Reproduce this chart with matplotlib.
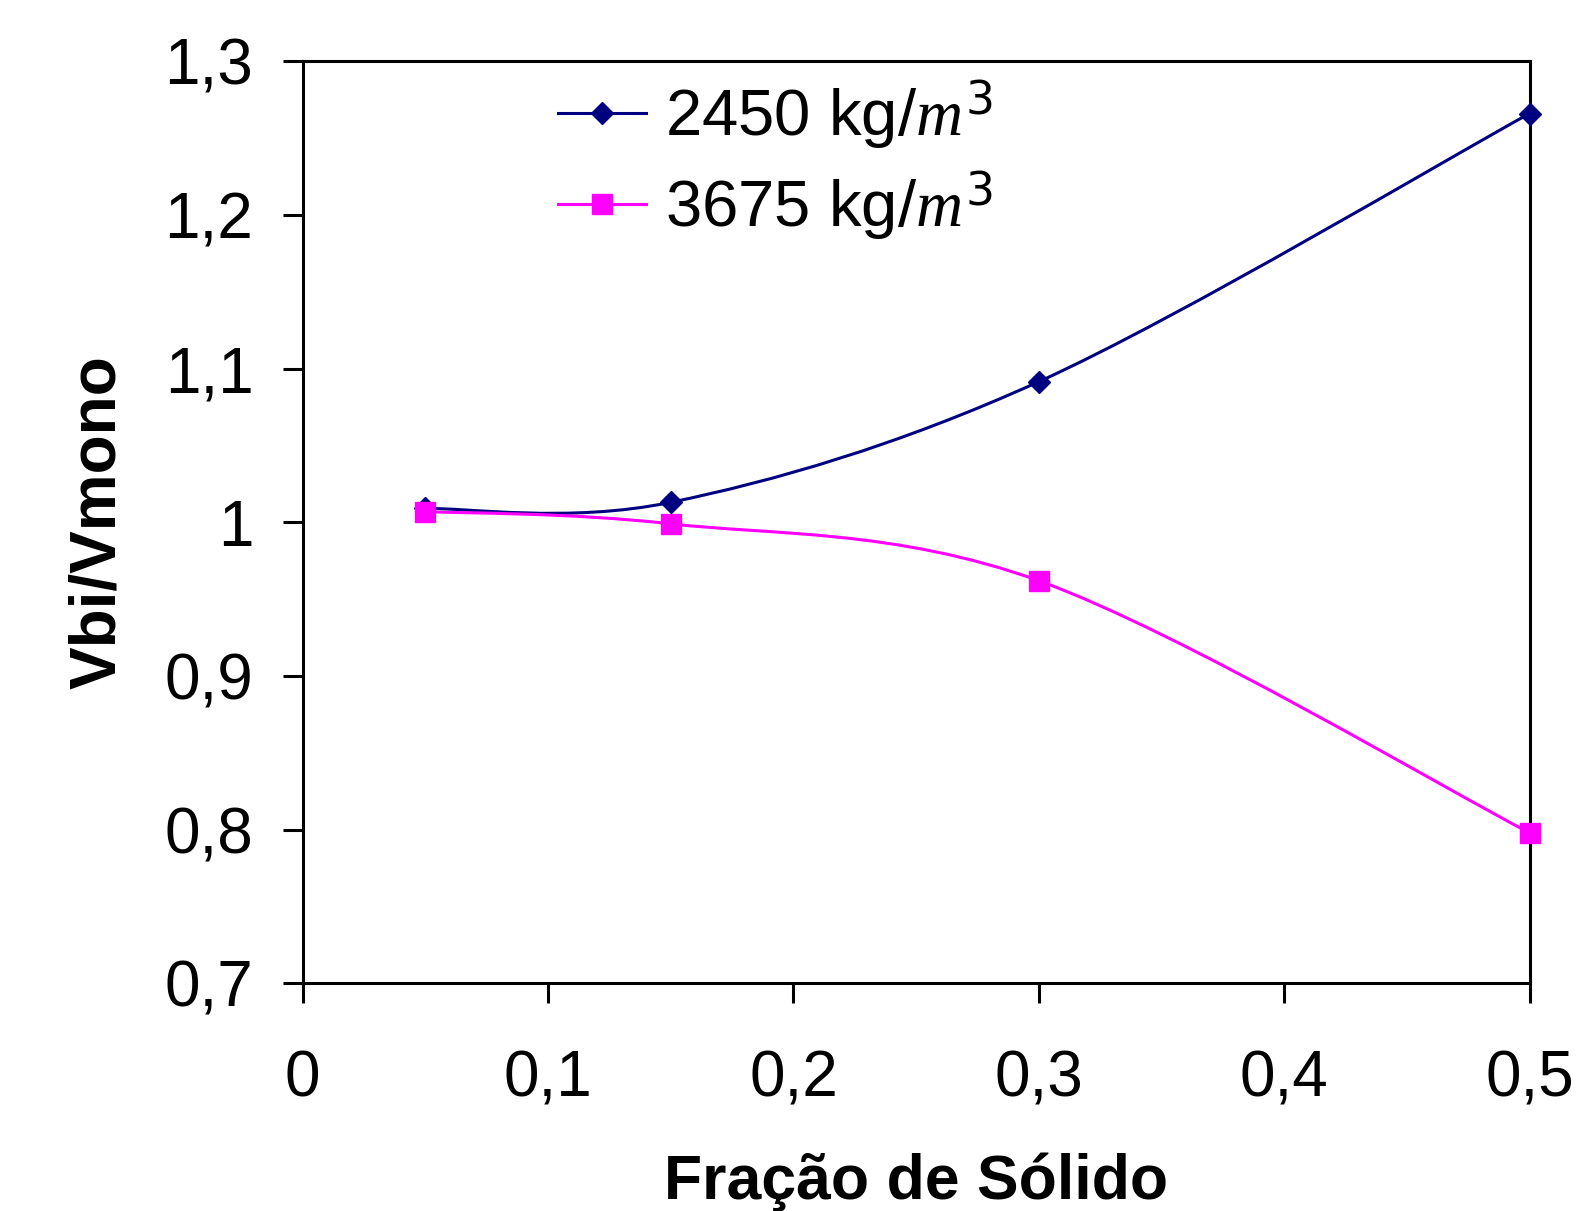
#Vbi/Vmono vs solid fraction chart
#Output is saved as out.png

import numpy as np
import matplotlib.pyplot as plt
from matplotlib.path import Path
from matplotlib.patches import PathPatch
from matplotlib.lines import Line2D

plt.rcParams["font.family"] = ["Liberation Sans", "DejaVu Sans"]
plt.rcParams["mathtext.fontset"] = "custom"
plt.rcParams["mathtext.it"] = "Liberation Serif:italic"

fracao = [0.05, 0.15, 0.3, 0.5]
v_2450 = [1.009, 1.013, 1.0915, 1.266]
v_3675 = [1.007, 0.999, 0.962, 0.798]
labels = [r"2450 kg/$m^{3}$", r"3675 kg/$m^{3}$"]
colors = ["#000080", "#FF00FF"]
markers = ["D", "s"]

x_ticks = [0, 0.1, 0.2, 0.3, 0.4, 0.5]
x_tick_labels = ["0", "0,1", "0,2", "0,3", "0,4", "0,5"]
y_ticks = [0.7, 0.8, 0.9, 1.0, 1.1, 1.2, 1.3]
y_tick_labels = ["0,7", "0,8", "0,9", "1", "1,1", "1,2", "1,3"]


#Excel style smoothed line (Catmull-Rom as cubic bezier)
def smooth_path(x, y):
    pts = np.column_stack([x, y])
    ext = np.vstack([pts[0], pts, pts[-1]])
    verts = [pts[0]]
    codes = [Path.MOVETO]
    for i in range(1, len(ext) - 2):
        p0, p1, p2, p3 = ext[i - 1], ext[i], ext[i + 1], ext[i + 2]
        verts += [p1 + (p2 - p0) / 6, p2 - (p3 - p1) / 6, p2]
        codes += [Path.CURVE4] * 3
    return Path(verts, codes)


fig = plt.figure(figsize=(15.85, 12.11), dpi=100)
ax = fig.add_axes([0.191, 0.188, 0.774, 0.7614])

handles = []
for yv, c, m, lab, ms in zip([v_2450, v_3675], colors, markers, labels, [11.5, 14]):
    ax.add_patch(PathPatch(smooth_path(fracao, yv), facecolor="none",
                           edgecolor=c, lw=2.2, zorder=2))
    ax.plot(fracao, yv, linestyle="none", marker=m, color=c, markersize=ms,
            clip_on=False, zorder=3)
    handles.append(Line2D([], [], color=c, lw=2.2, marker=m, markersize=ms,
                          label=lab))

ax.set_xlim(0, 0.5)
ax.set_ylim(0.7, 1.3)
ax.set_xticks(x_ticks)
ax.set_xticklabels(x_tick_labels)
ax.set_yticks(y_ticks)
ax.set_yticklabels(y_tick_labels)

for s in ax.spines.values():
    s.set_linewidth(2.2)
ax.tick_params(axis="both", direction="out", length=14.5, width=2.2,
               labelsize=46)
ax.tick_params(axis="x", pad=33)
ax.tick_params(axis="y", pad=21)

ax.set_xlabel("Fração de Sólido", fontsize=45, fontweight="bold", labelpad=31)
ax.set_ylabel("Vbi/Vmono", fontsize=46, fontweight="bold", labelpad=26)

ax.legend(handles=handles, loc="upper left", bbox_to_anchor=(0.16, 1.045),
          frameon=False, fontsize=47, handlelength=1.35, handletextpad=0.3,
          labelspacing=0.28)

plt.savefig("out.png", dpi=100)
plt.close()
